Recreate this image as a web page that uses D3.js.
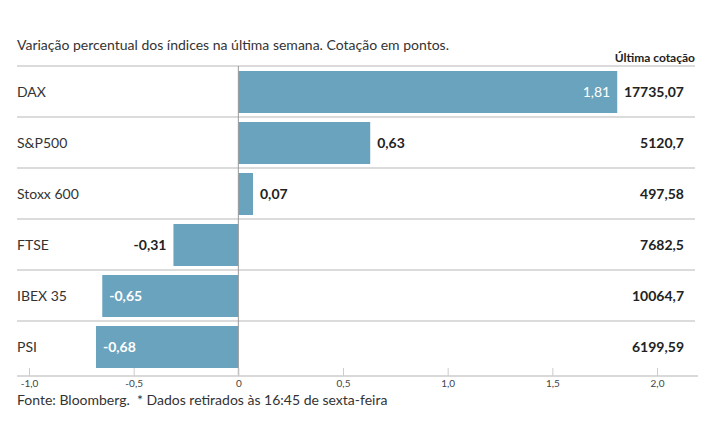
<!DOCTYPE html>
<html><head><meta charset="utf-8">
<script src="https://cdn.jsdelivr.net/npm/d3@7"></script>
<style>
body{margin:0;background:#fff;}
text{font-family:Lato,"Open Sans",sans-serif;}
</style></head>
<body>
<svg id="c" width="715" height="445"></svg>
<script>
const categories = ["DAX","S&P500","Stoxx 600","FTSE","IBEX 35","PSI"];
const changes = [1.81,0.63,0.07,-0.31,-0.65,-0.68];
const quotes = ["17735,07","5120,7","497,58","7682,5","10064,7","6199,59"];
const tickValues = [-1,-0.5,0,0.5,1,1.5,2];
const title = "Variação percentual dos índices na última semana. Cotação em pontos.";
const quoteHeader = "Última cotação";
const footer = "Fonte: Bloomberg.\u00a0 * Dados retirados às 16:45 de sexta-feira";

const svg = d3.select("#c");
const x = d3.scaleLinear().domain([-1,2]).range([29,657]);
const y = d3.scaleBand().domain(categories).range([66,372]).paddingInner(0).paddingOuter(0);
const barColor = "#6aa3bd";
const fmt = v => d3.format(".2f")(v).replace(".",",").replace("\u2212","-");

svg.append("text").attr("x",17).attr("y",50).attr("font-size",14).attr("fill","#333").text(title);
svg.append("text").attr("x",695).attr("y",62).attr("text-anchor","end").attr("font-size",12).attr("font-weight","bold").attr("fill","#222").text(quoteHeader);

// separators
const seps = categories.map(c=>y(c));
svg.selectAll("line.sep").data(seps).join("line").attr("class","sep")
  .attr("x1",17).attr("x2",695).attr("y1",d=>d).attr("y2",d=>d)
  .attr("stroke","#cfcfcf").attr("stroke-width",1.5);

// bars
const pad = 4;
svg.selectAll("rect.bar").data(categories).join("rect").attr("class","bar")
  .attr("x",(d,i)=>x(Math.min(0,changes[i])))
  .attr("width",(d,i)=>Math.abs(x(changes[i])-x(0)))
  .attr("y",d=>y(d)+pad+1).attr("height",y.bandwidth()-2*pad-1)
  .attr("fill",barColor);

// zero line
svg.append("line").attr("x1",x(0)).attr("x2",x(0)).attr("y1",66).attr("y2",376).attr("stroke","#999").attr("stroke-width",1);

// category labels
svg.selectAll("text.cat").data(categories).join("text").attr("class","cat")
  .attr("x",17).attr("y",d=>y(d)+y.bandwidth()/2+2).attr("dominant-baseline","middle")
  .attr("font-size",14).attr("fill","#333").text(d=>d);

// value labels
svg.selectAll("text.val").data(categories).join("text").attr("class","val")
  .each(function(d,i){
    const v = changes[i];
    const inside = Math.abs(v) > 0.64;
    const t = d3.select(this);
    let xx, anchor, fill;
    if(v>=0){
      if(inside){xx=x(v)-7;anchor="end";fill="#fff";}
      else{xx=x(v)+7;anchor="start";fill="#222";}
    } else {
      if(inside){xx=x(v)+7;anchor="start";fill="#fff";}
      else{xx=x(v)-7;anchor="end";fill="#222";}
    }
    t.attr("x",xx).attr("text-anchor",anchor).attr("fill",fill)
     .attr("font-weight", (v>=0 && inside) ? "normal" : "bold");
  })
  .attr("y",d=>y(d)+y.bandwidth()/2+2).attr("dominant-baseline","middle")
  .attr("font-size",14).text((d,i)=>fmt(changes[i]));

// quotes
svg.selectAll("text.q").data(categories).join("text").attr("class","q")
  .attr("x",684).attr("y",d=>y(d)+y.bandwidth()/2+2).attr("dominant-baseline","middle")
  .attr("text-anchor","end").attr("font-size",14).attr("font-weight","bold").attr("fill","#222")
  .text((d,i)=>quotes[i]);

// axis
const axis = d3.axisBottom(x).tickValues(tickValues).tickSize(8).tickSizeOuter(0)
  .tickFormat(d=> d===0 ? "0" : d3.format(".1f")(d).replace(".",",").replace("\u2212","-"));
const g = svg.append("g").attr("transform","translate(0,376)").call(axis);
g.select(".domain").remove();
g.selectAll(".tick line").attr("stroke","#ccc").attr("y1",-8).attr("y2",0);
g.selectAll(".tick text").attr("y",4).attr("font-size",10).attr("fill","#444").attr("font-family","Lato,'Open Sans',sans-serif");
svg.append("line").attr("x1",17).attr("x2",698).attr("y1",376).attr("y2",376).attr("stroke","#ccc").attr("stroke-width",1.5);

svg.append("text").attr("x",17).attr("y",405).attr("font-size",14).attr("fill","#333").text(footer);
</script>
</body></html>
